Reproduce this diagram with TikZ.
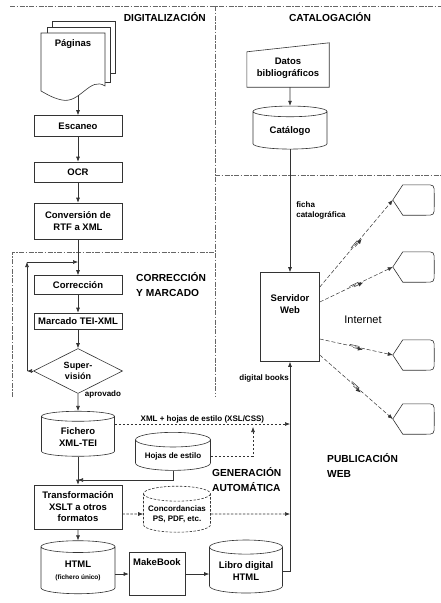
\documentclass[tikz,border=0pt]{standalone}
\usepackage{fontspec}
\setmainfont{Liberation Sans}
\usetikzlibrary{positioning, arrows.meta, shapes, decorations.markings}

\begin{document}
\begin{tikzpicture}[
    x=1pt, y=-1pt,
    caja/.style={
        rectangle,
        draw=black!80,
        align=center,
        fill=white, % fondo blanco
        font=\bfseries\fontsize{9.5}{11.5}\selectfont,
        inner sep=1pt,
        line width=0.6pt,
    },
    cilindro/.style={caja, cylinder, shape border rotate=90, aspect=0.25},
    cilindro_punteado/.style={cilindro, dash pattern=on 2.5pt off 1.5pt},
    hoja/.style={draw=black!80, fill=white, line width=0.6pt},
    titulo/.style={font=\bfseries\fontsize{10.2}{15}\selectfont, align=left, inner sep=0pt},
    etiqueta/.style={font=\bfseries\fontsize{8}{10}\selectfont, align=left, inner sep=1pt},
    arr/.style={-{Latex[length=5pt, width=4pt]}, line width=0.6pt, draw=black!80},
    arr_punteada/.style={arr, dash pattern=on 2.5pt off 1.5pt},
    zona/.style={line width=0.5pt, draw=black!60, dash pattern=on 5pt off 1.5pt on 1.5pt off 1.5pt},
    enlace/.style={arr, line width=0.5pt, dash pattern=on 4pt off 2pt,
        postaction={decorate},
        decoration={markings, mark=at position 0.5 with {
            \draw[solid, line width=0.5pt] (-7pt,1.2pt) -- (3pt,1.2pt) (-3pt,-1.2pt) -- (7pt,-1.2pt);}}},
]
\useasboundingbox (0,0) rectangle (441,603);

% Zonas
\draw[zona] (10,6) -- (441,6);
\draw[zona] (215,6) -- (215,397);
\draw[zona] (215,175) -- (441,175);
\draw[zona] (12,397) -- (12,252) -- (215,252);

% Titulos
\node[titulo, anchor=east] (t_digital) at (206,17) {DIGITALIZACIÓN};
\node[titulo] (t_catalog) at (330,17) {CATALOGACIÓN};
\node[titulo, anchor=west] (t_correc) at (136,285) {CORRECCIÓN\\Y MARCADO};
\node[titulo, font=\fontsize{11}{13}\selectfont] (t_internet) at (363,320) {Internet};
\node[titulo, anchor=west] (t_publica) at (327,465) {PUBLICACIÓN\\WEB};
\node[titulo, anchor=west] (t_genera) at (212,480) {GENERACIÓN\\AUTOMÁTICA};

% Paginas (documento multiple)
\draw[hoja] (52,21) rectangle (115,73);
\draw[hoja] (47,27) rectangle (110,82);
\draw[hoja] (41,33) -- (105,33) -- (105,86) .. controls (90,76) and (80,104) .. (62,100)
    .. controls (52,98) and (45,93) .. (41,91) -- cycle;
\node[etiqueta, font=\bfseries\fontsize{9.5}{11.5}\selectfont] (paginas) at (73,44) {Páginas};
\coordinate (paginas_pie) at (78,95);

% Nodos - digitalizacion y correccion
\node[caja, minimum width=88pt, minimum height=21pt] (escaneo) at (78,126) {Escaneo};
\node[caja, minimum width=88pt, minimum height=20pt] (ocr) at (78,172) {OCR};
\node[caja, minimum width=88pt, minimum height=36pt] (conversion) at (78,221) {Conversión de\\RTF a XML};
\node[caja, minimum width=88pt, minimum height=19pt] (correccion) at (78,285) {Corrección};
\node[caja, minimum width=88pt, minimum height=16pt] (marcado) at (78,321) {Marcado TEI-XML};
\node[caja, diamond, aspect=2, inner sep=0pt, minimum width=89pt, minimum height=45pt,
    font=\bfseries\fontsize{9}{11}\selectfont] (supervision) at (78,371) {Super-\\visión};
\node[etiqueta] (aprovado) at (103,394) {aprovado};

% Nodos - generacion automatica
\node[cilindro, minimum width=73pt, minimum height=45pt] (fichero) at (78,437) {Fichero\\XML-TEI};
\node[cilindro, font=\bfseries\fontsize{8}{10}\selectfont, minimum width=75pt, minimum height=38pt] (hojas) at (173,456) {Hojas de estilo};
\node[caja, minimum width=88pt, minimum height=44pt] (transformacion) at (78,507) {Transformación\\XSLT a otros\\formatos};
\node[cilindro_punteado, font=\bfseries\fontsize{8}{10}\selectfont, minimum width=67pt, minimum height=46pt] (concordancias) at (177,514) {Concordancias\\PS, PDF, etc.};
\node[cilindro, minimum width=74pt, minimum height=53pt] (html) at (78,571) {HTML\\{\fontsize{6.5}{8}\selectfont (fichero único)}};
\node[caja, minimum width=56pt, minimum height=43pt,
    label={[font=\bfseries\fontsize{9.5}{11.5}\selectfont, anchor=north, yshift=-3pt]north:MakeBook}] (makebook) at (157,574) {};
\node[cilindro, minimum width=73pt, minimum height=53pt] (libro) at (246,571) {Libro digital\\HTML};

% Nodos - catalogacion y publicacion
\node[minimum width=82pt, minimum height=44pt, inner sep=0pt] (datos) at (288,65) {};
\draw[hoja, fill=none] ([yshift=-9pt]datos.north west) -- (datos.north east) -- (datos.south east) -- (datos.south west) -- cycle;
\node[caja, draw=none, fill=none] (datos_txt) at (288,68) {Datos\\bibliográficos};
\node[cilindro, minimum width=74pt, minimum height=43pt] (catalogo) at (290,131) {Catálogo};
\node[caja, minimum width=59pt, minimum height=89pt,
    label={[font=\bfseries\fontsize{9.5}{11.5}\selectfont, align=center, anchor=north, yshift=-19pt]north:{Servidor\\Web}}] (servidor) at (290,317) {};

% Clientes (pantallas)
\foreach \i/\y in {1/200, 2/267, 3/355, 4/419} {
    \node[minimum width=41pt, minimum height=30pt, inner sep=0pt] (cliente\i) at (413.5,\y) {};
    \draw[hoja] (cliente\i.west) -- ([xshift=10pt]cliente\i.north west) -- ([xshift=-9pt]cliente\i.north east)
        .. controls (cliente\i.north east) .. ([yshift=-9pt]cliente\i.north east) -- ([yshift=9pt]cliente\i.south east)
        .. controls (cliente\i.south east) .. ([xshift=-9pt]cliente\i.south east) -- ([xshift=10pt]cliente\i.south west) -- cycle;
}

% Conexiones principales
\draw[arr] (paginas_pie) -- (escaneo);
\draw[arr] (escaneo) -- (ocr);
\draw[arr] (ocr) -- (conversion);
\draw[arr] (conversion) -- (correccion);
\draw[arr] (correccion) -- (marcado);
\draw[arr] (marcado) -- (supervision);
\draw[arr] (supervision) -- (fichero);
\draw[arr] (fichero) -- (transformacion);
\draw[arr] (transformacion) -- (html);

% Lazo de supervision
\coordinate (lazo_a) at (27,371);
\coordinate (lazo_b) at (27,262);
\coordinate (lazo_c) at (78,262);
\draw[arr] (supervision.west) -- (lazo_a);
\draw[arr] (lazo_a) -- (lazo_b);
\draw[arr] (lazo_b) -- (lazo_c);

% Generacion automatica
\coordinate (union_hojas) at (78,480);
\coordinate (servidor_xml) at (290,424);
\coordinate (hojas_sube) at (253,427);
\coordinate (servidor_conc) at (290,514);
\draw[arr] (hojas.south) |- (union_hojas);
\draw[arr_punteada] (fichero.east |- servidor_xml) -- node[etiqueta, above] {XML + hojas de estilo (XSL/CSS)} (servidor_xml);
\draw[arr_punteada] (hojas.east) -| (hojas_sube);
\draw[arr_punteada] (transformacion.east |- concordancias) -- (concordancias.west);
\draw[arr_punteada] (concordancias.east) -- (servidor_conc);
\draw[arr] (html.east |- makebook) -- (makebook.west);
\draw[arr] (makebook.east) -- (libro.west |- makebook);
\draw[arr] (libro.east) -| node[etiqueta, left, pos=0.96] {digital books} (servidor.south);

% Catalogacion
\draw[arr] (datos.south -| catalogo) -- (catalogo);
\draw[arr] (catalogo) -- node[etiqueta, right, xshift=5pt] {ficha\\catalográfica} (servidor);

% Enlaces por Internet
\foreach \i/\dy in {1/30, 2/15, 3/-22, 4/-38}
    \draw[enlace] ([yshift=\dy pt]servidor.east) -- (cliente\i.west);

\end{tikzpicture}
\end{document}
